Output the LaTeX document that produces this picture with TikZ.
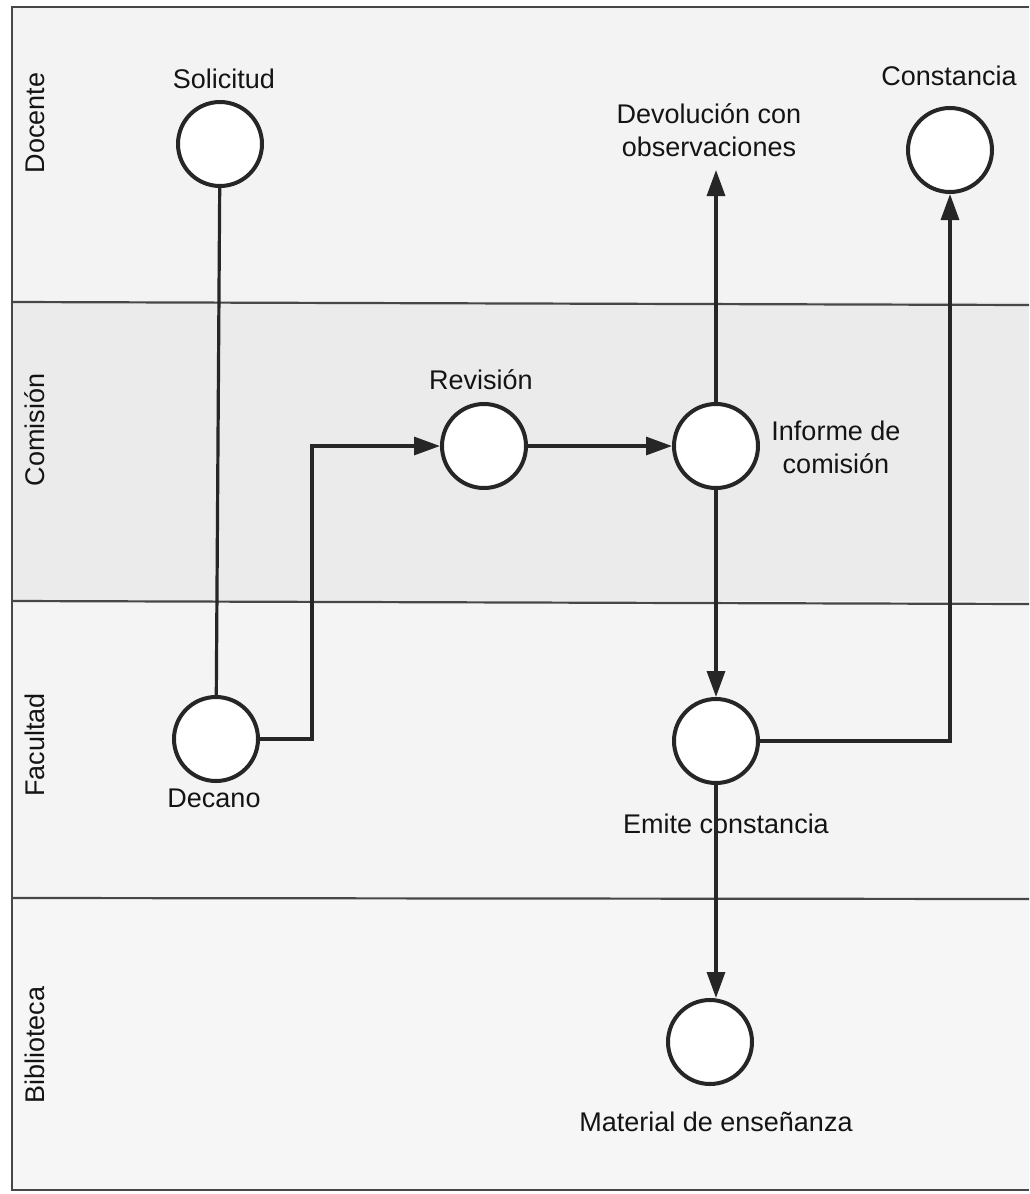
\documentclass[tikz,border=0pt]{standalone}
\usepackage{fontspec}
\setmainfont{Liberation Sans}
\usetikzlibrary{arrows.meta}
\definecolor{lanea}{HTML}{F3F3F3}
\definecolor{laneb}{HTML}{EBEBEB}
\definecolor{lanec}{HTML}{F4F4F4}
\definecolor{laned}{HTML}{F6F6F6}
\definecolor{ink}{HTML}{262626}
\definecolor{txt}{HTML}{141414}
\tikzset{
  state/.style={circle,draw=ink,line width=4pt,fill=white,minimum size=84pt,inner sep=0pt},
  lbl/.style={text=txt,font=\fontsize{27}{33}\selectfont,inner sep=0pt,align=center},
  lanelbl/.style={text=txt,font=\fontsize{27}{33}\selectfont,inner sep=0pt,rotate=90},
  conn/.style={draw=ink,line width=3.2pt},
  arr/.style={conn,-{Triangle[length=26pt,width=18pt]}},
  sep/.style={draw=ink!85,line width=2.2pt}
}
\begin{document}
\begin{tikzpicture}[x=1pt,y=-1pt]
\useasboundingbox (0,0) rectangle (1029,1194);
\fill[white] (0,0) rectangle (1029,1194);
% lanes
\fill[lanea] (12,7) rectangle (1029,302);
\fill[laneb] (12,302) rectangle (1029,601);
\fill[lanec] (12,601) rectangle (1029,898);
\fill[laned] (12,898) rectangle (1029,1190);
\draw[sep] (1029,7) -- (12,7) -- (12,1190) -- (1029,1190);
\draw[sep] (12,302) -- (1029,305);
\draw[sep] (12,601) -- (1029,604);
\draw[sep] (12,898) -- (1029,899);
% lane labels
\node[lanelbl] (lDoc) at (35,123) {Docente};
\node[lanelbl] (lCom) at (35,430) {Comisión};
\node[lanelbl] (lFac) at (35,745) {Facultad};
\node[lanelbl] (lBib) at (35,1045) {Biblioteca};
% states
\node[state] (solicitud) at (220,144) {};
\node[state] (decano) at (216,739) {};
\node[state] (revision) at (484,446) {};
\node[state] (informe) at (716,446) {};
\node[state] (emite) at (716,741) {};
\node[state] (material) at (710,1042) {};
\node[state] (constancia) at (950,150) {};
% labels
\node[lbl] (tSol) at (224,79) {Solicitud};
\node[lbl] (tCon) at (949,76) {Constancia};
\node[lbl] (tDev) at (709,130) {Devolución con\\observaciones};
\node[lbl] (tRev) at (481,380) {Revisión};
\node[lbl] (tInf) at (836,447) {Informe de\\comisión};
\node[lbl] (tDec) at (214,798) {Decano};
\node[lbl] (tEmi) at (726,824) {Emite constancia};
\node[lbl] (tMat) at (716,1122) {Material de enseñanza};
\coordinate (devtip) at (716,170);
% connectors
\draw[conn] (solicitud) -- (decano);
\draw[arr] (decano.east) -- ++(52,0) |- (revision.west);
\draw[arr] (revision) -- (informe);
\draw[arr] (informe.north) -- (devtip);
\draw[arr] (informe) -- (emite);
\draw[arr] (emite.east) -| (constancia.south);
\draw[arr] (emite.south) -- (emite.south |- material.north);
\end{tikzpicture}
\end{document}
